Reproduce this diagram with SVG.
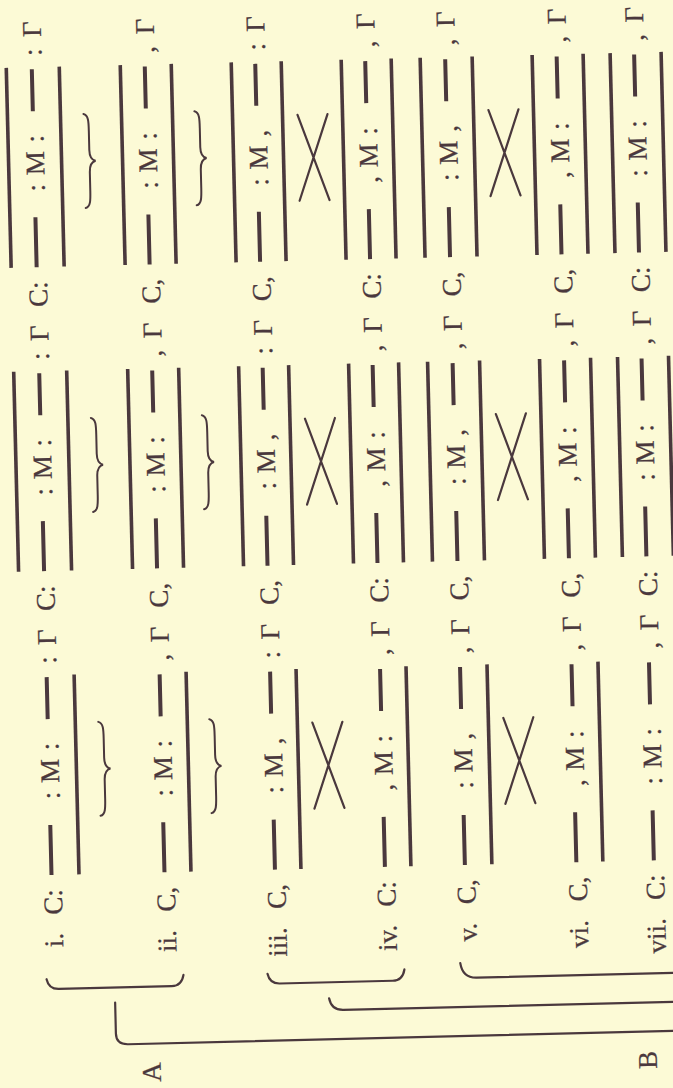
<svg xmlns="http://www.w3.org/2000/svg" width="673" height="1088" viewBox="0 0 673 1088">
<style>
.t{font-family:"Liberation Serif","Times New Roman",serif;font-size:27px;fill:#4a383d;stroke:#4a383d;stroke-width:0.25;text-anchor:middle}
.lab{text-anchor:end}
.m{word-spacing:2px}
.d{font-family:"Liberation Serif","Times New Roman",serif;font-size:27px;fill:#4a383d;text-anchor:middle}
.bar{stroke:#4a383d;stroke-width:3.6;stroke-linecap:butt}
.ln{fill:none;stroke:#4a383d;stroke-width:2.2;stroke-linecap:round}
.br{fill:none;stroke:#4a383d;stroke-width:2;stroke-linecap:round}
</style>
<rect width="673" height="1088" fill="#fcfad6"/>
<g transform="rotate(-1.4 336 544)">
<g id="row-i">
<g transform="translate(53.5 0) rotate(-90)">
<text class="t"><tspan class="lab" x="-926">i.</tspan><tspan x="-895">C:</tspan><tspan class="m" x="-764">: M :</tspan><tspan x="-653">:</tspan><tspan x="-630">Γ</tspan><tspan x="-591">C:</tspan><tspan class="m" x="-460">: M :</tspan><tspan x="-349">:</tspan><tspan x="-326">Γ</tspan><tspan x="-287">C:</tspan><tspan class="m" x="-156">: M :</tspan><tspan x="-45">:</tspan><tspan x="-22">Γ</tspan></text>
<path fill="#4a383d" d="M-868,-12h50v4h-50zM-712,-12h42v4h-42zM-564,-12h50v4h-50zM-408,-12h42v4h-42zM-260,-12h50v4h-50zM-104,-12h42v4h-42z"/>
<text class="d" y="-3.5"><tspan x="-843">—</tspan><tspan x="-691">—</tspan><tspan x="-539">—</tspan><tspan x="-387">—</tspan><tspan x="-235">—</tspan><tspan x="-83">—</tspan></text>
</g>
<line class="bar" x1="71" y1="668" x2="71" y2="868"/>
<line class="bar" x1="18" y1="364" x2="18" y2="564"/><line class="bar" x1="71" y1="364" x2="71" y2="564"/>
<line class="bar" x1="18" y1="60" x2="18" y2="260"/><line class="bar" x1="71" y1="60" x2="71" y2="260"/>
</g>
<g id="row-ii">
<g transform="translate(166.5 0) rotate(-90)">
<text class="t"><tspan class="lab" x="-926">ii.</tspan><tspan x="-895">C,</tspan><tspan class="m" x="-764">: M :</tspan><tspan x="-653">,</tspan><tspan x="-630">Γ</tspan><tspan x="-591">C,</tspan><tspan class="m" x="-460">: M :</tspan><tspan x="-349">,</tspan><tspan x="-326">Γ</tspan><tspan x="-287">C,</tspan><tspan class="m" x="-156">: M :</tspan><tspan x="-45">,</tspan><tspan x="-22">Γ</tspan></text>
<path fill="#4a383d" d="M-868,-12h50v4h-50zM-712,-12h42v4h-42zM-564,-12h50v4h-50zM-408,-12h42v4h-42zM-260,-12h50v4h-50zM-104,-12h42v4h-42z"/>
<text class="d" y="-3.5"><tspan x="-843">—</tspan><tspan x="-691">—</tspan><tspan x="-539">—</tspan><tspan x="-387">—</tspan><tspan x="-235">—</tspan><tspan x="-83">—</tspan></text>
</g>
<line class="bar" x1="183" y1="668" x2="183" y2="868"/>
<line class="bar" x1="132" y1="364" x2="132" y2="564"/><line class="bar" x1="183" y1="364" x2="183" y2="564"/>
<line class="bar" x1="132" y1="60" x2="132" y2="260"/><line class="bar" x1="183" y1="60" x2="183" y2="260"/>
</g>
<g id="row-iii">
<g transform="translate(277 0) rotate(-90)">
<text class="t"><tspan class="lab" x="-926">iii.</tspan><tspan x="-895">C,</tspan><tspan class="m" x="-764">: M ,</tspan><tspan x="-653">:</tspan><tspan x="-630">Γ</tspan><tspan x="-591">C,</tspan><tspan class="m" x="-460">: M ,</tspan><tspan x="-349">:</tspan><tspan x="-326">Γ</tspan><tspan x="-287">C,</tspan><tspan class="m" x="-156">: M ,</tspan><tspan x="-45">:</tspan><tspan x="-22">Γ</tspan></text>
<path fill="#4a383d" d="M-868,-12h50v4h-50zM-712,-12h42v4h-42zM-564,-12h50v4h-50zM-408,-12h42v4h-42zM-260,-12h50v4h-50zM-104,-12h42v4h-42z"/>
<text class="d" y="-3.5"><tspan x="-843">—</tspan><tspan x="-691">—</tspan><tspan x="-539">—</tspan><tspan x="-387">—</tspan><tspan x="-235">—</tspan><tspan x="-83">—</tspan></text>
</g>
<line class="bar" x1="293" y1="668" x2="293" y2="868"/>
<line class="bar" x1="243" y1="364" x2="243" y2="564"/><line class="bar" x1="293" y1="364" x2="293" y2="564"/>
<line class="bar" x1="243" y1="60" x2="243" y2="260"/><line class="bar" x1="293" y1="60" x2="293" y2="260"/>
</g>
<g id="row-iv">
<g transform="translate(387 0) rotate(-90)">
<text class="t"><tspan class="lab" x="-926">iv.</tspan><tspan x="-895">C:</tspan><tspan class="m" x="-764">, M :</tspan><tspan x="-653">,</tspan><tspan x="-630">Γ</tspan><tspan x="-591">C:</tspan><tspan class="m" x="-460">, M :</tspan><tspan x="-349">,</tspan><tspan x="-326">Γ</tspan><tspan x="-287">C:</tspan><tspan class="m" x="-156">, M :</tspan><tspan x="-45">,</tspan><tspan x="-22">Γ</tspan></text>
<path fill="#4a383d" d="M-868,-12h50v4h-50zM-712,-12h42v4h-42zM-564,-12h50v4h-50zM-408,-12h42v4h-42zM-260,-12h50v4h-50zM-104,-12h42v4h-42z"/>
<text class="d" y="-3.5"><tspan x="-843">—</tspan><tspan x="-691">—</tspan><tspan x="-539">—</tspan><tspan x="-387">—</tspan><tspan x="-235">—</tspan><tspan x="-83">—</tspan></text>
</g>
<line class="bar" x1="403" y1="668" x2="403" y2="868"/>
<line class="bar" x1="353" y1="364" x2="353" y2="564"/><line class="bar" x1="403" y1="364" x2="403" y2="564"/>
<line class="bar" x1="353" y1="60" x2="353" y2="260"/><line class="bar" x1="403" y1="60" x2="403" y2="260"/>
</g>
<g id="row-v">
<g transform="translate(467 0) rotate(-90)">
<text class="t"><tspan class="lab" x="-926">v.</tspan><tspan x="-895">C,</tspan><tspan class="m" x="-764">: M ,</tspan><tspan x="-653">,</tspan><tspan x="-630">Γ</tspan><tspan x="-591">C,</tspan><tspan class="m" x="-460">: M ,</tspan><tspan x="-349">,</tspan><tspan x="-326">Γ</tspan><tspan x="-287">C,</tspan><tspan class="m" x="-156">: M ,</tspan><tspan x="-45">,</tspan><tspan x="-22">Γ</tspan></text>
<path fill="#4a383d" d="M-868,-12h50v4h-50zM-712,-12h42v4h-42zM-564,-12h50v4h-50zM-408,-12h42v4h-42zM-260,-12h50v4h-50zM-104,-12h42v4h-42z"/>
<text class="d" y="-3.5"><tspan x="-843">—</tspan><tspan x="-691">—</tspan><tspan x="-539">—</tspan><tspan x="-387">—</tspan><tspan x="-235">—</tspan><tspan x="-83">—</tspan></text>
</g>
<line class="bar" x1="484" y1="668" x2="484" y2="868"/>
<line class="bar" x1="432" y1="364" x2="432" y2="564"/><line class="bar" x1="484" y1="364" x2="484" y2="564"/>
<line class="bar" x1="432" y1="60" x2="432" y2="260"/><line class="bar" x1="484" y1="60" x2="484" y2="260"/>
</g>
<g id="row-vi">
<g transform="translate(578.5 0) rotate(-90)">
<text class="t"><tspan class="lab" x="-926">vi.</tspan><tspan x="-895">C,</tspan><tspan class="m" x="-764">, M :</tspan><tspan x="-653">,</tspan><tspan x="-630">Γ</tspan><tspan x="-591">C,</tspan><tspan class="m" x="-460">, M :</tspan><tspan x="-349">,</tspan><tspan x="-326">Γ</tspan><tspan x="-287">C,</tspan><tspan class="m" x="-156">, M :</tspan><tspan x="-45">,</tspan><tspan x="-22">Γ</tspan></text>
<path fill="#4a383d" d="M-868,-12h50v4h-50zM-712,-12h42v4h-42zM-564,-12h50v4h-50zM-408,-12h42v4h-42zM-260,-12h50v4h-50zM-104,-12h42v4h-42z"/>
<text class="d" y="-3.5"><tspan x="-843">—</tspan><tspan x="-691">—</tspan><tspan x="-539">—</tspan><tspan x="-387">—</tspan><tspan x="-235">—</tspan><tspan x="-83">—</tspan></text>
</g>
<line class="bar" x1="595" y1="668" x2="595" y2="868"/>
<line class="bar" x1="544" y1="364" x2="544" y2="564"/><line class="bar" x1="595" y1="364" x2="595" y2="564"/>
<line class="bar" x1="544" y1="60" x2="544" y2="260"/><line class="bar" x1="595" y1="60" x2="595" y2="260"/>
</g>
<g id="row-vii">
<g transform="translate(656 0) rotate(-90)">
<text class="t"><tspan class="lab" x="-926">vii.</tspan><tspan x="-895">C:</tspan><tspan class="m" x="-764">: M :</tspan><tspan x="-653">,</tspan><tspan x="-630">Γ</tspan><tspan x="-591">C:</tspan><tspan class="m" x="-460">: M :</tspan><tspan x="-349">,</tspan><tspan x="-326">Γ</tspan><tspan x="-287">C:</tspan><tspan class="m" x="-156">: M :</tspan><tspan x="-45">,</tspan><tspan x="-22">Γ</tspan></text>
<path fill="#4a383d" d="M-868,-12h50v4h-50zM-712,-12h42v4h-42zM-564,-12h50v4h-50zM-408,-12h42v4h-42zM-260,-12h50v4h-50zM-104,-12h42v4h-42z"/>
<text class="d" y="-3.5"><tspan x="-843">—</tspan><tspan x="-691">—</tspan><tspan x="-539">—</tspan><tspan x="-387">—</tspan><tspan x="-235">—</tspan><tspan x="-83">—</tspan></text>
</g>
<line class="bar" x1="622" y1="364" x2="622" y2="564"/><line class="bar" x1="673" y1="364" x2="673" y2="564"/>
<line class="bar" x1="622" y1="60" x2="622" y2="260"/><line class="bar" x1="673" y1="60" x2="673" y2="260"/>
</g>
<g id="label-A"><text class="t" transform="translate(148 0) rotate(-90)" x="-1067.5">A</text></g>
<g id="label-B"><text class="t" transform="translate(644 0) rotate(-90)" x="-1067.5">B</text></g>
<g id="connectors">
<path class="br" d="M94,716 C99,717 99,724 99,733 L99,752 C99,759 101,762 105,763 C101,764 99,767 99,774 L99,793 C99,802 99,809 94,810"/>
<path class="br" d="M205,716 C210,717 210,724 210,733 L210,752 C210,759 212,762 216,763 C212,764 210,767 210,774 L210,793 C210,802 210,809 205,810"/>
<path class="br" d="M94,412 C99,413 99,420 99,429 L99,448 C99,455 101,458 105,459 C101,460 99,463 99,470 L99,489 C99,498 99,505 94,506"/>
<path class="br" d="M205,412 C210,413 210,420 210,429 L210,448 C210,455 212,458 216,459 C212,460 210,463 210,470 L210,489 C210,498 210,505 205,506"/>
<path class="br" d="M94,108 C99,109 99,116 99,125 L99,144 C99,151 101,154 105,155 C101,156 99,159 99,166 L99,185 C99,194 99,201 94,202"/>
<path class="br" d="M205,108 C210,109 210,116 210,125 L210,144 C210,151 212,154 216,155 C212,156 210,159 210,166 L210,185 C210,194 210,201 205,202"/>
<path class="ln" d="M308,722 L338,808 M338,722 L308,808"/>
<path class="ln" d="M499,722 L529,808 M529,722 L499,808"/>
<path class="ln" d="M308,418 L338,504 M338,418 L308,504"/>
<path class="ln" d="M499,418 L529,504 M529,418 L499,504"/>
<path class="ln" d="M308,114 L338,200 M338,114 L308,200"/>
<path class="ln" d="M499,114 L529,200 M529,114 L499,200"/>
<path class="ln" d="M36,972 Q38,982 48,982 L161,982 Q171,982 173,971"/>
<path class="ln" d="M257,972 Q259,982 269,982 L382,982 Q392,982 394,971"/>
<path class="ln" d="M450,966 Q452,981 466,981 L720,981"/>
<path class="ln" d="M318,998 Q320,1010 332,1010 L720,1010"/>
<path class="ln" d="M104,997 L104,1028 Q104,1039 116,1039 L720,1039"/>
</g>
</g>
</svg>
